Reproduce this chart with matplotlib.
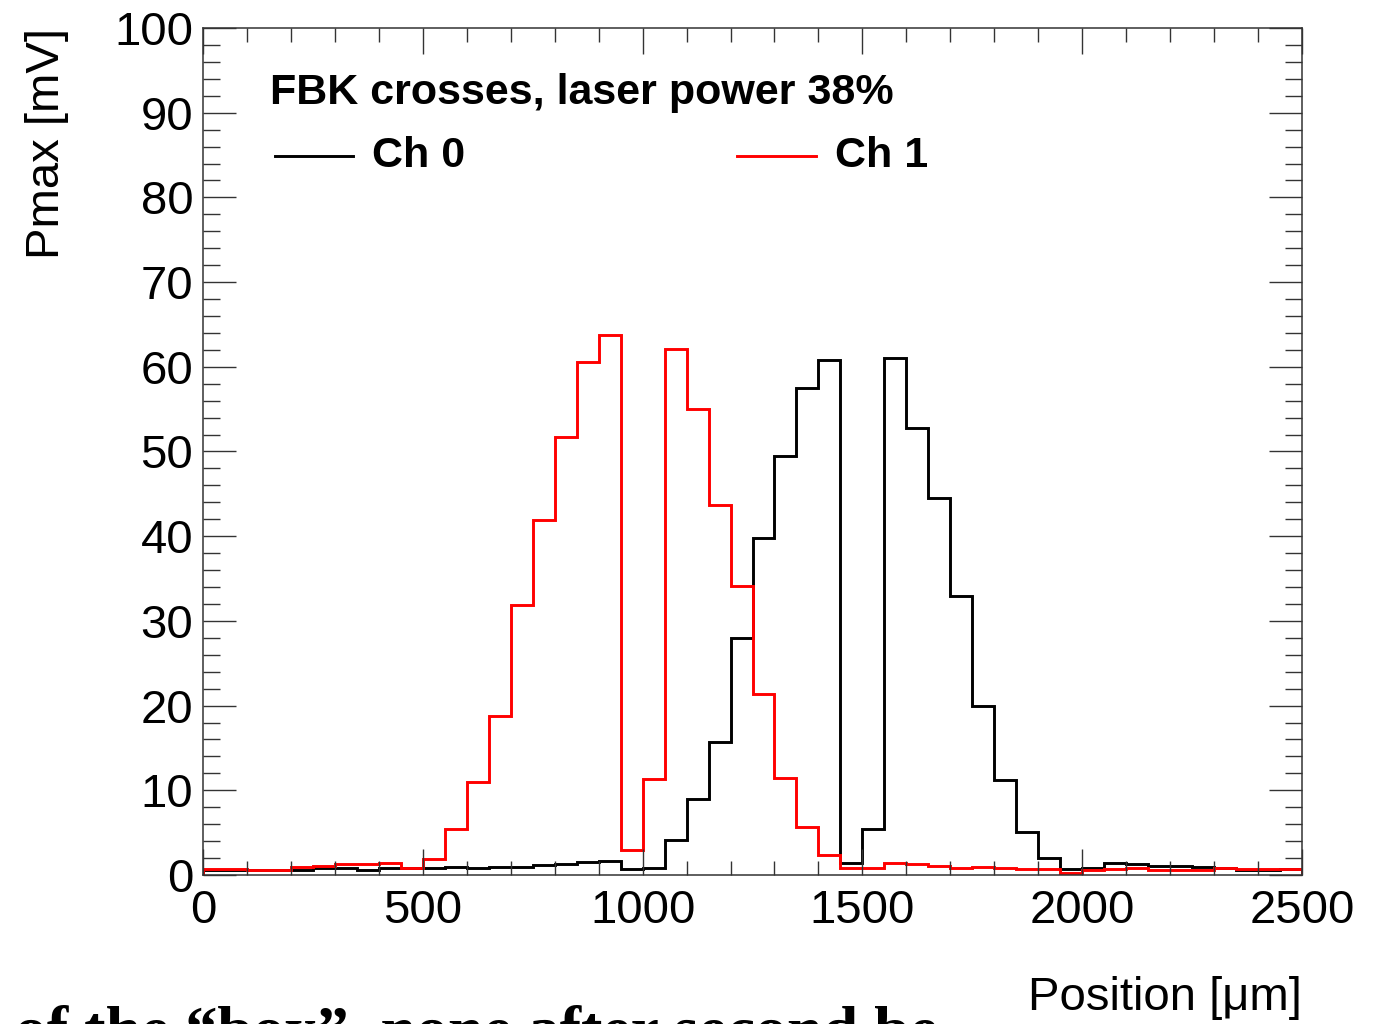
import numpy as np
import matplotlib
matplotlib.use("Agg")
import matplotlib.pyplot as plt
from matplotlib.ticker import MultipleLocator

# ---- data ----
bin_edges = np.arange(0, 2501, 50)
ch0 = [0.6, 0.6, 0.6, 0.6, 0.6, 0.8, 0.87, 0.63, 0.8, 0.8,
       0.8, 0.95, 0.8, 0.95, 1.0, 1.2, 1.35, 1.5, 1.65, 0.7,
       0.87, 4.1, 9.0, 15.7, 28.0, 39.8, 49.5, 57.5, 60.8, 1.4,
       5.4, 61.0, 52.8, 44.5, 32.9, 20.0, 11.2, 5.1, 2.0, 0.67,
       0.8, 1.45, 1.26, 1.1, 1.1, 0.95, 0.8, 0.55, 0.6, 0.65]
ch1 = [0.7, 0.7, 0.6, 0.6, 0.95, 1.1, 1.3, 1.35, 1.45, 0.8,
       1.85, 5.4, 11.0, 18.8, 31.9, 41.9, 51.7, 60.6, 63.8, 3.0,
       11.3, 62.1, 55.0, 43.7, 34.1, 21.4, 11.5, 5.7, 2.4, 0.8,
       0.8, 1.45, 1.3, 1.1, 0.87, 1.0, 0.83, 0.7, 0.7, 0.2,
       0.63, 0.7, 0.87, 0.6, 0.6, 0.6, 0.8, 0.75, 0.7, 0.7]
series_labels = ["Ch 0", "Ch 1"]
title_text = "FBK crosses, laser power 38%"
xlabel = "Position [\u03bcm]"
ylabel = "Pmax [mV]"
bottom_text = "of the \u201cbox\u201d, none after second be"

plt.rcParams['font.family'] = ['Liberation Sans', 'DejaVu Sans']

W, H = 1385, 1024
fig = plt.figure(figsize=(W / 100, H / 100), dpi=100)
ax = fig.add_axes([203 / W, 1 - 875 / H, (1302 - 203) / W, (875 - 28) / H])

LW = 2.1
ax.stairs(ch0, bin_edges, color='black', linewidth=LW)
ax.stairs(ch1, bin_edges, color='#ff0000', linewidth=LW)

ax.set_xlim(0, 2500)
ax.set_ylim(0, 100)
ax.xaxis.set_major_locator(MultipleLocator(500))
ax.xaxis.set_minor_locator(MultipleLocator(100))
ax.yaxis.set_major_locator(MultipleLocator(10))
ax.yaxis.set_minor_locator(MultipleLocator(2))
ax.tick_params(which='both', direction='in', top=True, right=True, width=1.0, color='#333333')
ax.tick_params(axis='y', which='major', length=24, pad=7, labelsize=34)
ax.tick_params(axis='y', which='minor', length=12)
ax.tick_params(axis='x', which='major', length=19, pad=10, labelsize=34)
ax.tick_params(axis='x', which='minor', length=10)
for s in ax.spines.values():
    s.set_linewidth(1.1)
    s.set_color('#333333')


def ax_frac(px, py):
    return ((px - 203) / (1302 - 203), (875 - py) / (875 - 28))


# title text and legend
tp = ax_frac(270, 93)
ax.text(tp[0], tp[1], title_text, transform=ax.transAxes, fontsize=31,
        fontweight='bold', va='center', ha='left')

for (x0, x1, tx), col, lab in zip([(275, 353, 372), (737, 816, 835)], ['black', '#ff0000'], series_labels):
    a0 = ax_frac(x0, 156)
    a1 = ax_frac(x1, 156)
    ax.plot([a0[0], a1[0]], [a0[1], a1[1]], transform=ax.transAxes, color=col, linewidth=LW,
            clip_on=False)
    t = ax_frac(tx, 156)
    ax.text(t[0], t[1], lab, transform=ax.transAxes, fontsize=31, fontweight='bold',
            va='center', ha='left')

fig.text(1302 / W, 1 - 1010 / H, xlabel, fontsize=34, ha='right', va='baseline')
fig.text(47 / W, 1 - 28 / H, ylabel, fontsize=34, rotation=90, ha='center', va='top')

fig.text(15 / W, 1 - 1050 / H, bottom_text, fontsize=46, fontweight='bold',
         family=['Liberation Serif', 'DejaVu Serif'], ha='left', va='baseline')

fig.savefig('out.png', dpi=100)
